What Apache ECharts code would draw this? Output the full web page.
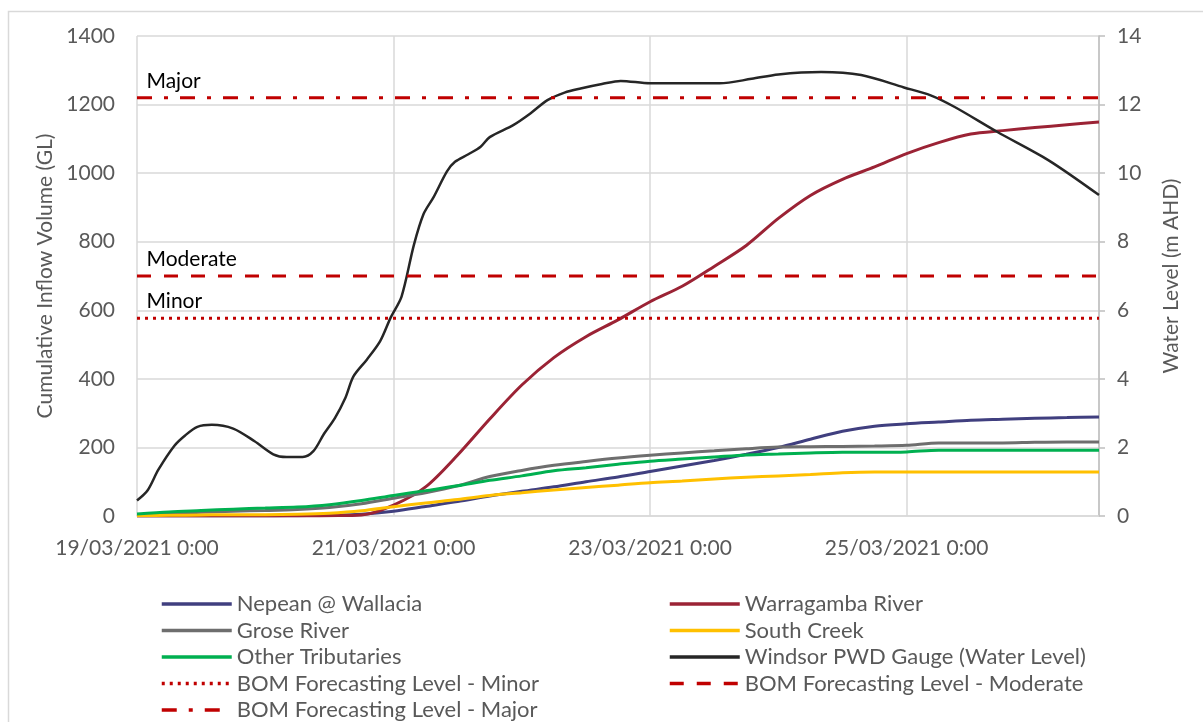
<!DOCTYPE html>
<html>
<head>
<meta charset="utf-8">
<title>Hawkesbury-Nepean inflows and Windsor water level, March 2021</title>
<script src="https://cdn.jsdelivr.net/npm/echarts@6/dist/echarts.min.js"></script>
<style>
  html, body { margin: 0; padding: 0; background: #ffffff; }
  #chart { width: 1203px; height: 722px; }
</style>
</head>
<body>
<div id="chart"></div>
<script>
// Hours since 19/03/2021 0:00 for the cumulative inflow series (6-hourly)
const hours = [0, 6, 12, 18, 24, 30, 36, 42, 48, 54, 60, 66, 72, 78, 84, 90,
  96, 102, 108, 114, 120, 126, 132, 138, 144, 150, 156, 162, 168, 174, 180];

// Cumulative inflow volume (GL)
const nepean = [0, 0, 0, 0, 0, 1, 2, 5, 14, 28, 42, 58, 72, 85, 100, 114,
  130, 146, 162, 180, 200, 224, 247, 262, 269, 274, 279, 282, 285, 287, 289];
const warragamba = [0, 0, 0, 0, 0, 0, 1, 3, 32, 85, 178, 283, 382, 462, 523, 572,
  625, 670, 728, 789, 868, 935, 982, 1018, 1057, 1089, 1114, 1124, 1133, 1141, 1149];
const grose = [3, 7, 11, 14, 16, 19, 25, 36, 52, 68, 88, 115, 133, 148, 159, 169,
  177, 184, 190, 196, 201, 202, 203, 204, 206, 213, 213, 213, 215, 216, 216];
const southCreek = [1, 2, 3, 4, 4, 5, 8, 15, 27, 38, 48, 60, 68, 76, 83, 90,
  97, 102, 108, 113, 117, 121, 126, 128, 128, 128, 128, 128, 128, 128, 128];
const otherTribs = [6, 12, 16, 20, 23, 26, 33, 45, 60, 74, 88, 104, 117, 132, 141, 151,
  160, 166, 172, 178, 181, 184, 186, 186, 187, 192, 192, 192, 192, 192, 192];

// Windsor PWD gauge water level (m AHD)
const windsorHours = [0, 2, 4, 7, 9, 11.3, 14, 18, 22, 25.5, 28, 31, 33, 35, 37, 39,
  40.5, 43, 45.5, 47.5, 49.5, 51.8, 53.6, 55.5, 58, 59.5, 62, 64.3, 66, 70.4, 73.6,
  76.8, 80, 83, 87, 90.5, 96, 109, 115, 120, 128, 135.5, 143.5, 148.5, 153, 161, 170.5, 180];
const windsorLevel = [0.45, 0.75, 1.35, 2.05, 2.35, 2.6, 2.66, 2.55, 2.18, 1.8, 1.72,
  1.72, 1.89, 2.4, 2.85, 3.45, 4.07, 4.56, 5.1, 5.8, 6.4, 7.9, 8.8, 9.3, 10.05, 10.33,
  10.55, 10.77, 11.05, 11.4, 11.74, 12.13, 12.35, 12.47, 12.6, 12.69, 12.62, 12.62,
  12.75, 12.88, 12.95, 12.86, 12.5, 12.27, 11.93, 11.2, 10.38, 9.36];

// BOM flood classification levels at Windsor (m AHD)
const levelNames = ['Minor', 'Moderate', 'Major'];
const levelValues = [5.77, 7.0, 12.2];

// Axis tick labels
const xTickLabels = ['19/03/2021 0:00', '21/03/2021 0:00', '23/03/2021 0:00', '25/03/2021 0:00'];
const xTickStep = 48;

const FONT = 'Lato';
const GREY_TEXT = '#595959';
const GRID_COLOR = '#d9d9d9';
const BOM_RED = '#C00000';

const pairs = (xs, ys) => xs.map((x, i) => [x, ys[i]]);

function flowSeries(name, values, color) {
  return {
    name: name,
    type: 'line',
    yAxisIndex: 0,
    symbol: 'none',
    smooth: 0.3,
    lineStyle: { color: color, width: 3 },
    itemStyle: { color: color },
    data: pairs(hours, values)
  };
}

function levelSeries(idx, dash) {
  const v = levelValues[idx];
  const x0 = hours[0], x1 = hours[hours.length - 1];
  return {
    name: 'BOM Forecasting Level - ' + levelNames[idx],
    type: 'line',
    yAxisIndex: 1,
    symbol: 'none',
    lineStyle: { color: BOM_RED, width: 3, type: dash, cap: 'butt' },
    itemStyle: { color: BOM_RED },
    data: [
      {
        value: [x0, v],
        symbol: 'circle',
        symbolSize: 1,
        itemStyle: { color: 'rgba(0,0,0,0)' },
        label: {
          show: true,
          formatter: levelNames[idx],
          position: [10, -16],
          align: 'left',
          verticalAlign: 'middle',
          color: '#000000',
          fontFamily: FONT,
          fontSize: 21
        }
      },
      [x1, v]
    ]
  };
}

const chart = echarts.init(document.getElementById('chart'), null, { renderer: 'canvas' });

// Two-column legend below the plot; line keys only (marker hidden)
const legendBase = {
  orient: 'vertical',
  top: 593,
  padding: 0,
  itemWidth: 70,
  itemHeight: 14,
  itemGap: 4.5,
  itemStyle: { opacity: 0 },
  lineStyle: { width: 3.5 },
  textStyle: { color: GREY_TEXT, fontFamily: FONT, fontSize: 22 }
};

chart.setOption({
  animation: false,
  backgroundColor: '#ffffff',
  graphic: [{
    type: 'rect',
    silent: true,
    shape: { x: 8.5, y: 11.5, width: 1220, height: 730 },
    style: { fill: 'none', stroke: GRID_COLOR, lineWidth: 1.5 }
  }],
  grid: { left: 137, right: 104, top: 36, bottom: 206, containLabel: false },
  legend: [
    Object.assign({}, legendBase, {
      left: 160,
      data: ['Nepean @ Wallacia', 'Grose River', 'Other Tributaries',
        'BOM Forecasting Level - Minor', 'BOM Forecasting Level - Major']
    }),
    Object.assign({}, legendBase, {
      left: 668,
      data: ['Warragamba River', 'South Creek', 'Windsor PWD Gauge (Water Level)',
        'BOM Forecasting Level - Moderate']
    })
  ],
  xAxis: {
    type: 'value',
    min: 0,
    max: 180,
    interval: xTickStep,
    axisLine: { show: true, lineStyle: { color: GRID_COLOR, width: 1.5 } },
    axisTick: { show: false },
    splitLine: { show: true, lineStyle: { color: GRID_COLOR, width: 1.5 } },
    axisLabel: {
      color: GREY_TEXT, fontFamily: FONT, fontSize: 21, margin: 22,
      showMaxLabel: false,
      formatter: (v) => {
        const i = Math.round(v / xTickStep);
        return (v % xTickStep === 0 && xTickLabels[i]) ? xTickLabels[i] : '';
      }
    }
  },
  yAxis: [
    {
      type: 'value',
      min: 0, max: 1400, interval: 200,
      name: 'Cumulative Inflow Volume (GL)',
      nameLocation: 'middle',
      nameGap: 80,
      nameTextStyle: { color: GREY_TEXT, fontFamily: FONT, fontSize: 21 },
      axisLine: { show: false },
      axisTick: { show: false },
      splitLine: { show: true, lineStyle: { color: GRID_COLOR, width: 1.5 } },
      axisLabel: { color: GREY_TEXT, fontFamily: FONT, fontSize: 21, margin: 22, formatter: (v) => String(v) }
    },
    {
      type: 'value',
      min: 0, max: 14, interval: 2,
      position: 'right',
      name: 'Water Level (m AHD)',
      nameLocation: 'middle',
      nameGap: 62,
      nameRotate: 90,
      nameTextStyle: { color: GREY_TEXT, fontFamily: FONT, fontSize: 21 },
      axisLine: { show: true, lineStyle: { color: '#bfbfbf', width: 1.5 } },
      axisTick: { show: true, length: 6, lineStyle: { color: '#bfbfbf', width: 1.5 } },
      splitLine: { show: false },
      axisLabel: { color: GREY_TEXT, fontFamily: FONT, fontSize: 21, margin: 18 }
    }
  ],
  series: [
    flowSeries('Nepean @ Wallacia', nepean, '#403F7F'),
    flowSeries('Warragamba River', warragamba, '#9B2335'),
    flowSeries('Grose River', grose, '#6E6E6E'),
    flowSeries('South Creek', southCreek, '#FFC000'),
    flowSeries('Other Tributaries', otherTribs, '#00B050'),
    {
      name: 'Windsor PWD Gauge (Water Level)',
      type: 'line',
      yAxisIndex: 1,
      symbol: 'none',
      smooth: 0.3,
      lineStyle: { color: '#262626', width: 2.5 },
      itemStyle: { color: '#262626' },
      data: pairs(windsorHours, windsorLevel)
    },
    levelSeries(0, [3, 5]),
    levelSeries(1, [14, 13]),
    levelSeries(2, [15, 12, 4, 12])
  ]
});
</script>
</body>
</html>
